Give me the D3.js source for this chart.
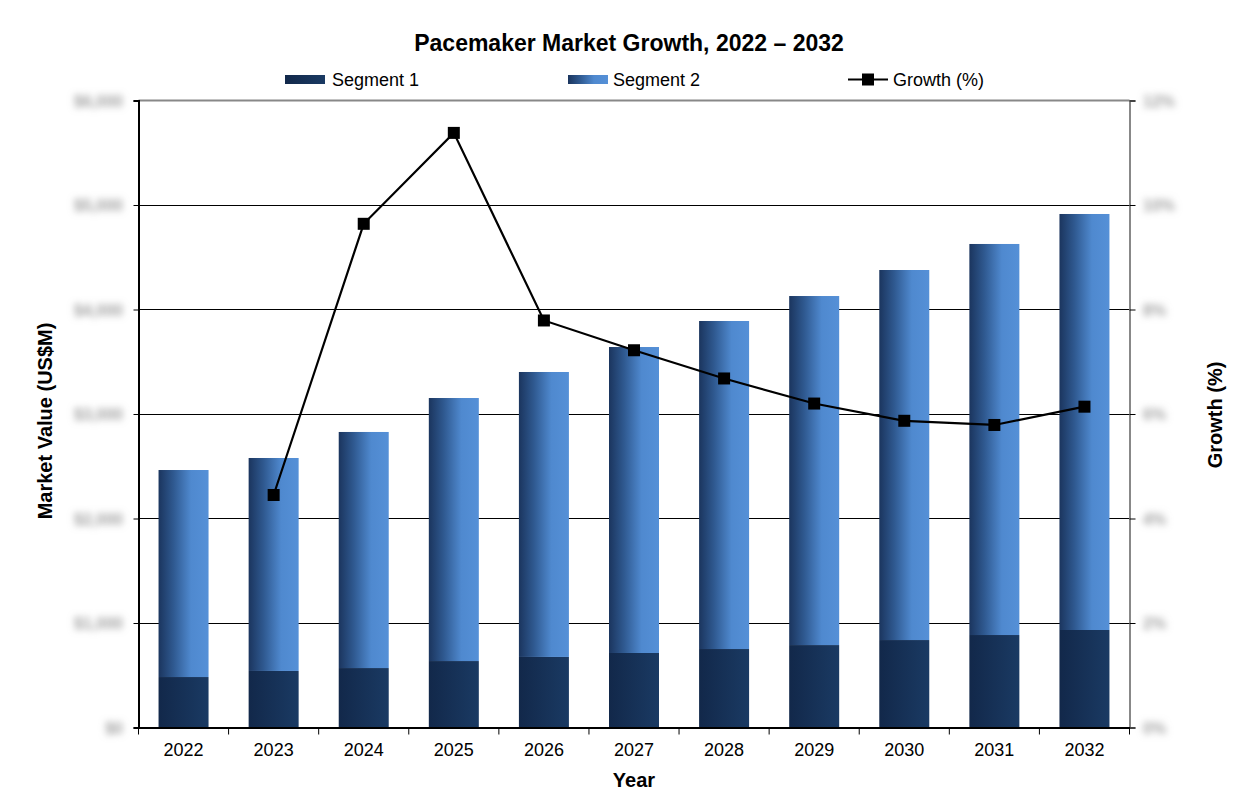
<!DOCTYPE html>
<html>
<head>
<meta charset="utf-8">
<script src="https://cdn.jsdelivr.net/npm/d3@7/dist/d3.min.js"></script>
<style>
  html, body { margin: 0; padding: 0; background: #fff; }
  svg { display: block; font-family: "Liberation Sans", Arial, sans-serif; }
</style>
</head>
<body>
<svg id="chart" width="1256" height="810"></svg>
<script>
// ---- data ----
const years = ["2022","2023","2024","2025","2026","2027","2028","2029","2030","2031","2032"];
const segment1 = [483, 541, 569, 636, 675, 713, 751, 789, 837, 885, 933];
const segment2 = [1981, 2038, 2259, 2517, 2727, 2928, 3139, 3340, 3541, 3742, 3981];
const growth = [null, 4.45, 9.64, 11.38, 7.79, 7.22, 6.68, 6.20, 5.87, 5.79, 6.14];
const leftTicks = [0, 1000, 2000, 3000, 4000, 5000, 6000];
const leftTickLabels = ["$0","$1,000","$2,000","$3,000","$4,000","$5,000","$6,000"];
const rightTicks = [0, 2, 4, 6, 8, 10, 12];
const rightTickLabels = ["0%","2%","4%","6%","8%","10%","12%"];
const seriesNames = ["Segment 1", "Segment 2", "Growth (%)"];

// ---- layout ----
const svg = d3.select("#chart");
const L = 138.5, R = 1129.5, T = 100.5, B = 727.5;

const x = d3.scaleBand().domain(years).range([L, R]).paddingInner(0.445).paddingOuter(0.2225);
const y = d3.scaleLinear().domain([0, 6000]).range([B, T]);
const y2 = d3.scaleLinear().domain([0, 12]).range([B, T]);

const defs = svg.append("defs");
const g1 = defs.append("linearGradient").attr("id", "gSeg1").attr("x1", "0").attr("x2", "1").attr("y1", "0").attr("y2", "0");
g1.append("stop").attr("offset", "0").attr("stop-color", "#12284a");
g1.append("stop").attr("offset", "1").attr("stop-color", "#1a3a63");
const g2 = defs.append("linearGradient").attr("id", "gSeg2").attr("x1", "0").attr("x2", "1").attr("y1", "0").attr("y2", "0");
g2.append("stop").attr("offset", "0").attr("stop-color", "#1b355e");
g2.append("stop").attr("offset", "0.3").attr("stop-color", "#2f5990");
g2.append("stop").attr("offset", "0.65").attr("stop-color", "#4f89cf");
g2.append("stop").attr("offset", "1").attr("stop-color", "#5590d7");
const blur = defs.append("filter").attr("id", "blur").attr("x", "-50%").attr("y", "-150%").attr("width", "200%").attr("height", "400%");
blur.append("feGaussianBlur").attr("stdDeviation", "3.6");

// ---- title ----
svg.append("text").attr("x", 629).attr("y", 51).attr("text-anchor", "middle")
  .attr("font-size", 23).attr("font-weight", "bold").attr("fill", "#000")
  .text("Pacemaker Market Growth, 2022 \u2013 2032");

// ---- gridlines ----
svg.append("g").selectAll("line").data(leftTicks.filter(d => d > 0 && d < 6000)).join("line")
  .attr("x1", L).attr("x2", R).attr("y1", d => y(d)).attr("y2", d => y(d))
  .attr("stroke", "#000").attr("stroke-width", 1).attr("shape-rendering", "crispEdges");
// top border
svg.append("line").attr("x1", L).attr("x2", R).attr("y1", T).attr("y2", T)
  .attr("stroke", "#888").attr("stroke-width", 2);

// ---- bars ----
const barG = svg.append("g");
barG.selectAll("rect.s1").data(years).join("rect").attr("class", "s1")
  .attr("x", d => x(d)).attr("width", x.bandwidth())
  .attr("y", (d, i) => y(segment1[i])).attr("height", (d, i) => y(0) - y(segment1[i]))
  .attr("fill", "url(#gSeg1)");
barG.selectAll("rect.s2").data(years).join("rect").attr("class", "s2")
  .attr("x", d => x(d)).attr("width", x.bandwidth())
  .attr("y", (d, i) => y(segment1[i] + segment2[i])).attr("height", (d, i) => y(segment1[i]) - y(segment1[i] + segment2[i]))
  .attr("fill", "url(#gSeg2)");

// ---- axes ----
const leftAxis = d3.axisLeft(y).tickValues(leftTicks).tickSize(5).tickFormat("");
const la = svg.append("g").attr("transform", `translate(${L},0)`).call(leftAxis);
la.select(".domain").attr("stroke", "#000").attr("stroke-width", 2);
la.selectAll(".tick line").attr("stroke", "#000");

const rightAxis = d3.axisRight(y2).tickValues(rightTicks).tickSize(6).tickFormat("");
const ra = svg.append("g").attr("transform", `translate(${R},0)`).call(rightAxis);
ra.select(".domain").attr("stroke", "#888").attr("stroke-width", 2);
ra.selectAll(".tick line").attr("stroke", "#000");

const bottomAxis = d3.axisBottom(x).tickSize(0).tickFormat("");
const ba = svg.append("g").attr("transform", `translate(0,${B})`).call(bottomAxis);
ba.select(".domain").attr("stroke", "#000").attr("stroke-width", 2);
// category boundary ticks
const bounds = years.map(d => x(d) - x.step() * x.paddingInner() / 2).slice(1).concat([L, R]);
svg.append("g").selectAll("line").data(bounds).join("line")
  .attr("x1", d => d).attr("x2", d => d).attr("y1", B).attr("y2", B + 7)
  .attr("stroke", "#000").attr("stroke-width", 1);

// year labels
svg.append("g").selectAll("text").data(years).join("text")
  .attr("x", d => x(d) + x.bandwidth() / 2).attr("y", 756)
  .attr("text-anchor", "middle").attr("font-size", 18).attr("fill", "#000")
  .text(d => d);

// blurred value labels (as in the reference)
svg.append("g").selectAll("text").data(leftTicks).join("text")
  .attr("x", 123).attr("y", d => y(d) + 6)
  .attr("text-anchor", "end").attr("font-size", 16).attr("font-weight", "bold").attr("fill", "#a0a0a0")
  .attr("filter", "url(#blur)")
  .text((d, i) => leftTickLabels[i]);
svg.append("g").selectAll("text").data(rightTicks).join("text")
  .attr("x", 1143).attr("y", d => y2(d) + 6)
  .attr("text-anchor", "start").attr("font-size", 16).attr("font-weight", "bold").attr("fill", "#a0a0a0")
  .attr("filter", "url(#blur)")
  .text((d, i) => rightTickLabels[i]);

// ---- growth line ----
const pts = years.map((d, i) => ({ year: d, v: growth[i] })).filter(p => p.v !== null);
const line = d3.line().x(p => x(p.year) + x.bandwidth() / 2).y(p => y2(p.v));
svg.append("path").datum(pts).attr("d", line)
  .attr("fill", "none").attr("stroke", "#000").attr("stroke-width", 2.2);
svg.append("g").selectAll("rect").data(pts).join("rect")
  .attr("x", p => x(p.year) + x.bandwidth() / 2 - 6).attr("y", p => y2(p.v) - 6)
  .attr("width", 12).attr("height", 12).attr("fill", "#000");

// ---- axis titles ----
svg.append("text").attr("transform", "translate(52,421) rotate(-90)")
  .attr("text-anchor", "middle").attr("font-size", 20).attr("font-weight", "bold")
  .text("Market Value (US$M)");
svg.append("text").attr("transform", "translate(1222,415) rotate(-90)")
  .attr("text-anchor", "middle").attr("font-size", 20).attr("font-weight", "bold")
  .text("Growth (%)");
svg.append("text").attr("x", 634).attr("y", 787)
  .attr("text-anchor", "middle").attr("font-size", 20).attr("font-weight", "bold")
  .text("Year");

// ---- legend ----
const leg = svg.append("g");
leg.append("rect").attr("x", 285).attr("y", 75).attr("width", 40).attr("height", 9).attr("fill", "url(#gSeg1)");
leg.append("text").attr("x", 332).attr("y", 86).attr("font-size", 18).text(seriesNames[0]);
leg.append("rect").attr("x", 568).attr("y", 75).attr("width", 40).attr("height", 9).attr("fill", "url(#gSeg2)");
leg.append("text").attr("x", 613).attr("y", 86).attr("font-size", 18).text(seriesNames[1]);
leg.append("line").attr("x1", 848).attr("x2", 888).attr("y1", 79.5).attr("y2", 79.5).attr("stroke", "#000").attr("stroke-width", 2);
leg.append("rect").attr("x", 862).attr("y", 73.5).attr("width", 12).attr("height", 12).attr("fill", "#000");
leg.append("text").attr("x", 893).attr("y", 86).attr("font-size", 18).text(seriesNames[2]);
</script>
</body>
</html>
